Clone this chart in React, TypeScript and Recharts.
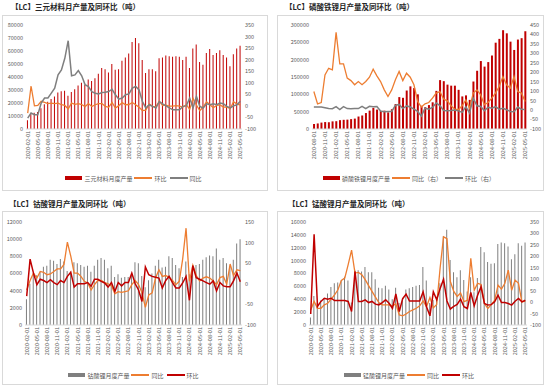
import React from 'react';
import { ComposedChart, Bar, Line, XAxis, YAxis, Legend } from 'recharts';

// month categories, yyyy-mm-01
function monthLabels(year: number, month: number, count: number): string[] {
  const out: string[] = [];
  let y = year;
  let m = month;
  for (let i = 0; i < count; i++) {
    out.push(`${y}-${String(m).padStart(2, '0')}-01`);
    m += 1;
    if (m > 12) {
      m = 1;
      y += 1;
    }
  }
  return out;
}

// 三元材料
const ternaryMonths = monthLabels(2020, 2, 64);
const ternaryOutput = [
  6700, 12000, 12500, 13000, 16000, 19000, 21000, 23000, 25000, 28000,
  29000, 29500, 25500, 28500, 30500, 33500, 35500, 34000, 38000, 37000,
  39000, 42500, 47000, 46000, 43500, 50000, 45500, 46000, 52500, 55000,
  58000, 67000, 70000, 66000, 53000, 43000, 46000, 46000, 44500, 54500,
  55000, 56500, 56000, 55500, 56000, 55500, 53000, 55500, 47000, 62000,
  65000, 51500, 49500, 58500, 61500, 57000, 58500, 60500, 57000, 55000,
  48300, 57500, 62000, 64000,
];
const ternaryMoM = [
  -31, 86, 0, 2, 20, 15, 10, 12, 10, 12,
  5, 2, -13, 12, 7, 10, 6, -3, 10, -3,
  5, 10, 10, -2, -6, 15, -9, 1, 14, 5,
  6, 15, 5, -6, -20, -18, 8, -2, -3, 20,
  1, 3, -1, -1, 1, -1, -5, 5, -15, 32,
  4, -21, -5, 18, 5, -8, 2, 4, -5, -4,
  -12, 18, 8, 4,
];
const ternaryYoY = [
  -53, -31, -38, -38, 12, 34, 34, 55, 77, 134,
  156, 206, 282, 130, 134, 153, 130, 92, 84, 62,
  55, 52, 58, 59, 62, 72, 48, 29, 34, 48,
  52, 77, 84, 69, 19, -9, 5, -2, -9, 19,
  9, 0, -9, -17, -17, -17, -2, 0, 34, -9,
  41, -2, -9, 9, 5, 9, 5, 12, 9, -2,
  -9, 0, 5, 20,
];
const ternaryLeftTicks = [0, 10000, 20000, 30000, 40000, 50000, 60000, 70000, 80000];
const ternaryRightTicks = [-100, -50, 0, 50, 100, 150, 200, 250, 300, 350];

// 磷酸铁锂
const lfpMonths = monthLabels(2020, 8, 58);
const lfpOutput = [
  14500, 16000, 18500, 20000, 19500, 22000, 22500, 25500, 26500, 27000,
  28500, 30000, 36000, 39000, 46000, 53000, 61000, 56000, 52000, 53000,
  48000, 57000, 72000, 92000, 90000, 111000, 123000, 118000, 100000, 67000,
  63000, 69000, 77000, 110000, 141000, 138000, 128000, 125000, 125000, 113000,
  94000, 97000, 84000, 137000, 168000, 196000, 180000, 193000, 212000, 249000,
  260000, 285000, 276000, 252000, 228000, 258000, 262000, 282000,
];
const lfpYoY = [
  98, 33, 40, 186, 221, 213, 411, 244, 244, 169,
  156, 134, 151, 134, 151, 174, 216, 181, 151, 107,
  72, 107, 160, 204, 156, 195, 174, 134, 46, 16,
  33, 40, 63, 90, 98, 58, 49, 23, 5, 2,
  23, 54, 10, 90, 107, 81, 28, 40, 63, 90,
  125, 177, 134, 116, 177, 98, 90, 46,
];
const lfpMoM = [
  16, 16, 16, 12, 8, 7, 18, 3, 18, 8,
  7, 9, 8, 20, 8, 20, 18, 19, -5, -9,
  -8, -7, 25, 30, 8, 22, 16, 5, -7, -32,
  10, 5, 14, 38, 24, -2, -3, -2, 0, -4,
  -12, 18, -16, 63, 23, 19, -3, 15, 10, 18,
  5, 10, 2, -7, -9, 16, 5, 3,
];
const lfpLeftTicks = [0, 50000, 100000, 150000, 200000, 250000, 300000];
const lfpRightTicks = [-100, -50, 0, 50, 100, 150, 200, 250, 300, 350, 400, 450];

// 钴酸锂
const lcoMonths = monthLabels(2020, 2, 64);
const lcoOutput = [
  3000, 4800, 6000, 5800, 6200, 6800, 6900, 7600, 7500, 7100,
  7700, 7400, 6300, 6200, 7300, 7200, 7000, 6800, 6900, 6200,
  6900, 7600, 7800, 7600, 6600, 6900, 5600, 5900, 5500, 5600,
  5600, 5700, 7300, 7200, 5700, 4400, 5200, 6000, 6900, 7600,
  6700, 6800, 8000, 7800, 7000, 6600, 5600, 7400, 5900, 7000,
  7000, 7100, 7600, 7900, 8100, 8000, 8900, 7600, 7800, 7200,
  6900, 7600, 9500, 10000,
];
const lcoYoY = [
  -15, 8, 26, 14, 30, 28, 22, 24, 30, 36,
  36, 47, 101, 67, 26, 26, 18, 6, 2, -15,
  -2, 8, 8, 3, 0, -5, -24, -19, -21, -19,
  -17, -2, 8, -2, -22, -57, -27, -22, 14, 34,
  18, 20, 16, 8, -2, 6, 60, 135, 6, 45,
  20, 7, 14, 17, 14, 7, -2, 15, 18, -1,
  48, 20, 34, 32,
];
const lcoMoM = [
  -30, 60, 26, -2, 11, 8, 3, 10, 3, -2,
  8, 3, 18, 28, -8, 0, 0, 0, 3, -6,
  11, 11, 6, 2, -8, 3, -19, 3, -5, 3,
  3, 26, 0, -15, -43, 41, 22, 18, 16, 14,
  -10, 8, 18, 3, -10, -10, 2, 18, -40, 44,
  15, 11, 7, 3, -1, 7, -17, 3, -5, -7,
  -7, 7, 26, 5,
];
const lcoLeftTicks = [0, 2000, 4000, 6000, 8000, 10000, 12000];
const lcoRightTicks = [-100, -50, 0, 50, 100, 150];

// 锰酸锂
const lmoMonths = monthLabels(2020, 2, 64);
const lmoOutput = [
  1150, 4500, 3400, 3800, 4200, 4900, 5900, 6500, 6600, 6900,
  7500, 6900, 3500, 8600, 8500, 8300, 9000, 8200, 8200, 7100,
  5800, 5700, 6100, 5500, 4000, 5800, 3400, 4000, 5500, 5700,
  5900, 6100, 6200, 9000, 6900, 3400, 3900, 4400, 6500, 13800,
  14800, 10100, 8200, 7400, 8500, 7000, 5200, 7400, 5100, 7300,
  12100, 11300, 9800, 9500, 9600, 12600, 12800, 12700, 12200, 10200,
  11000, 12700, 12300, 12800,
];
const lmoYoY = [
  -34, 3, -27, -27, -12, -5, 13, 32, 54, 95,
  105, 164, 227, 127, 130, 120, 98, 72, 47, 22,
  -2, -12, -12, -12, -16, -8, -56, -60, -52, -41,
  -34, -27, -16, 5, -20, 20, -25, -10, 150, 285,
  277, 90, 47, 25, 40, 2, 8, 191, 52, 82,
  77, -6, -28, -11, 8, 74, 57, 82, 140, 52,
  96, 82, 1, 4,
];
const lmoMoM = [
  -52, 296, -19, 3, 17, 13, 17, 7, 7, 7,
  7, 3, -41, 134, 3, 3, 10, -2, 3, -9,
  -12, -2, 10, -5, -27, 36, -41, 15, 35, 5,
  5, 5, 5, 45, -20, -60, 45, 10, 60, 100,
  5, -30, -19, -10, 13, -20, -28, 42, -16, 30,
  67, -6, -13, -11, 1, 30, -2, -2, -6, -13,
  4, 16, 1, 8,
];
const lmoLeftTicks = [0, 2000, 4000, 6000, 8000, 10000, 12000, 14000, 16000];
const lmoRightTicks = [-100, -50, 0, 50, 100, 150, 200, 250, 300, 350];

const FONT = '"Noto Sans CJK SC", "Noto Sans", sans-serif';
const AXIS_TEXT = '#595959';
const RED = '#C00000';
const ORANGE = '#ED7D31';
const GRAY_LINE = '#7F7F7F';
const GRAY_BAR = '#7F7F7F';

interface LineDef {
  name: string;
  values: number[];
  color: string;
  width: number;
}

interface PanelProps {
  title: string;
  titleX: number;
  titleY: number;
  x: number;
  y: number;
  w: number;
  h: number;
  months: string[];
  barName: string;
  barValues: number[];
  barColor: string;
  lines: LineDef[];
  leftTicks: number[];
  rightTicks: number[];
  leftWidth: number;
  rightWidth: number;
  top: number;
  bottom: number;
  xHeight: number;
}

const DateTick = (props: any) => {
  const { x, y, payload } = props;
  return (
    <text
      x={x}
      y={y}
      transform={`rotate(-90 ${x} ${y})`}
      textAnchor="end"
      dominantBaseline="central"
      fontSize={5.5}
      fill={AXIS_TEXT}
    >
      {payload.value}
    </text>
  );
};

const Panel = (p: PanelProps) => {
  const data = p.months.map((m, i) => {
    const row: Record<string, string | number> = { month: m, output: p.barValues[i] };
    p.lines.forEach((l, j) => {
      row[`s${j}`] = l.values[i];
    });
    return row;
  });

  const legend = () => (
    <div
      style={{
        display: 'flex',
        justifyContent: 'center',
        alignItems: 'center',
        height: 10,
        fontSize: 6,
        color: AXIS_TEXT,
        whiteSpace: 'nowrap',
        fontFamily: FONT,
      }}
    >
      <span style={{ display: 'inline-block', width: 17, height: 3.5, background: p.barColor, marginRight: 2 }} />
      <span style={{ marginRight: 2 }}>{p.barName}</span>
      {p.lines.map((l) => (
        <React.Fragment key={l.name}>
          <span style={{ display: 'inline-block', width: 18, height: 1.4, background: l.color, marginRight: 2 }} />
          <span style={{ marginRight: 3 }}>{l.name}</span>
        </React.Fragment>
      ))}
    </div>
  );

  return (
    <>
      <div
        style={{
          position: 'absolute',
          left: p.titleX,
          top: p.titleY,
          fontSize: 7.5,
          fontWeight: 700,
          color: '#262626',
          fontFamily: FONT,
          whiteSpace: 'nowrap',
          lineHeight: '10px',
        }}
      >
        {p.title}
      </div>
      <div
        style={{
          position: 'absolute',
          left: p.x,
          top: p.y,
          width: p.w,
          height: p.h,
          border: '1px solid #d9d9d9',
          boxSizing: 'border-box',
        }}
      >
        <ComposedChart
          width={p.w - 2}
          height={p.h - 2}
          data={data}
          margin={{ top: p.top, right: 0, left: 0, bottom: p.bottom }}
          barCategoryGap="28%"
          style={{ fontFamily: FONT }}
        >
          <XAxis
            dataKey="month"
            interval={2}
            height={p.xHeight}
            tickLine={false}
            tickSize={0}
            tickMargin={2}
            axisLine={{ stroke: '#d9d9d9' }}
            tick={<DateTick />}
          />
          <YAxis
            yAxisId="l"
            domain={[p.leftTicks[0], p.leftTicks[p.leftTicks.length - 1]]}
            ticks={p.leftTicks}
            interval={0}
            width={p.leftWidth}
            axisLine={false}
            tickLine={false}
            tickSize={0}
            tickMargin={3}
            tick={{ fontSize: 5.5, fill: AXIS_TEXT }}
            allowDataOverflow
          />
          <YAxis
            yAxisId="r"
            orientation="right"
            domain={[p.rightTicks[0], p.rightTicks[p.rightTicks.length - 1]]}
            ticks={p.rightTicks}
            interval={0}
            width={p.rightWidth}
            axisLine={false}
            tickLine={false}
            tickSize={0}
            tickMargin={3}
            tick={{ fontSize: 5.5, fill: AXIS_TEXT }}
            allowDataOverflow
          />
          <Legend verticalAlign="bottom" content={legend} />
          <Bar yAxisId="l" dataKey="output" name={p.barName} fill={p.barColor} isAnimationActive={false} />
          {p.lines.map((l, j) => (
            <Line
              key={l.name}
              yAxisId="r"
              type="linear"
              dataKey={`s${j}`}
              name={l.name}
              stroke={l.color}
              strokeWidth={l.width}
              dot={false}
              activeDot={false}
              isAnimationActive={false}
            />
          ))}
        </ComposedChart>
      </div>
    </>
  );
};

export default function App() {
  return (
    <div
      style={{
        position: 'absolute',
        left: 0,
        top: 0,
        width: 550,
        height: 386,
        background: '#ffffff',
        overflow: 'hidden',
      }}
    >
      <Panel
        title="【LC】三元材料月产量及同环比（吨）"
        titleX={11}
        titleY={2}
        x={2}
        y={15}
        w={266}
        h={176}
        months={ternaryMonths}
        barName="三元材料月度产量"
        barValues={ternaryOutput}
        barColor={RED}
        lines={[
          { name: '环比', values: ternaryMoM, color: ORANGE, width: 1.3 },
          { name: '同比', values: ternaryYoY, color: GRAY_LINE, width: 1.5 },
        ]}
        leftTicks={ternaryLeftTicks}
        rightTicks={ternaryRightTicks}
        leftWidth={23}
        rightWidth={25}
        top={9}
        bottom={7}
        xHeight={44}
      />
      <Panel
        title="【LC】磷酸铁锂月产量及同环比（吨）"
        titleX={285}
        titleY={2}
        x={277}
        y={15}
        w={267}
        h={176}
        months={lfpMonths}
        barName="磷酸铁锂月度产量"
        barValues={lfpOutput}
        barColor={RED}
        lines={[
          { name: '同比（右）', values: lfpYoY, color: ORANGE, width: 1.3 },
          { name: '环比（右）', values: lfpMoM, color: GRAY_LINE, width: 1.5 },
        ]}
        leftTicks={lfpLeftTicks}
        rightTicks={lfpRightTicks}
        leftWidth={34}
        rightWidth={16}
        top={9}
        bottom={7}
        xHeight={44}
      />
      <Panel
        title="【LC】钴酸锂月产量及同环比（吨）"
        titleX={9}
        titleY={199}
        x={2}
        y={211}
        w={266}
        h={174}
        months={lcoMonths}
        barName="钴酸锂月度产量"
        barValues={lcoOutput}
        barColor={GRAY_BAR}
        lines={[
          { name: '同比', values: lcoYoY, color: ORANGE, width: 1.3 },
          { name: '环比', values: lcoMoM, color: RED, width: 1.5 },
        ]}
        leftTicks={lcoLeftTicks}
        rightTicks={lcoRightTicks}
        leftWidth={22}
        rightWidth={25}
        top={10}
        bottom={4}
        xHeight={45}
      />
      <Panel
        title="【LC】锰酸锂月产量及同环比（吨）"
        titleX={288}
        titleY={199}
        x={277}
        y={211}
        w={267}
        h={174}
        months={lmoMonths}
        barName="锰酸锂月度产量"
        barValues={lmoOutput}
        barColor={GRAY_BAR}
        lines={[
          { name: '同比', values: lmoYoY, color: ORANGE, width: 1.3 },
          { name: '环比', values: lmoMoM, color: RED, width: 1.5 },
        ]}
        leftTicks={lmoLeftTicks}
        rightTicks={lmoRightTicks}
        leftWidth={31}
        rightWidth={16}
        top={10}
        bottom={4}
        xHeight={45}
      />
    </div>
  );
}
